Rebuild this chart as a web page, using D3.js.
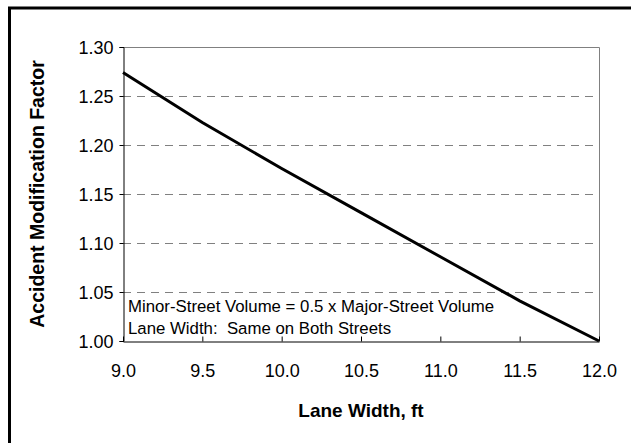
<!DOCTYPE html>
<html>
<head>
<meta charset="utf-8">
<script src="https://cdn.jsdelivr.net/npm/d3@7"></script>
<style>
  body { margin: 0; background: #fff; }
  svg text { font-family: "Liberation Sans", Arial, sans-serif; fill: #000; }
</style>
</head>
<body>
<svg width="631" height="443"></svg>
<script>
// lane width (ft) and the AMF
var laneWidth = [9.0, 9.5, 10.0, 10.5, 11.0, 11.5, 12.0];
var amf = [1.274, 1.223, 1.176, 1.131, 1.086, 1.041, 1.000];
var xTicks = [9.0, 9.5, 10.0, 10.5, 11.0, 11.5, 12.0];
var yTicks = [1.00, 1.05, 1.10, 1.15, 1.20, 1.25, 1.30];
var gridValues = [1.05, 1.10, 1.15, 1.20, 1.25];
var notes = ["Minor-Street Volume = 0.5 x Major-Street Volume", "Lane Width:  Same on Both Streets"];

var svg = d3.select("svg");
// note: "top" is taken by window.top, so plot edges get a prefix
var plotLeft = 123, plotRight = 599, plotTop = 47, plotBottom = 341;

var x = d3.scaleLinear().domain([9, 12]).range([plotLeft, plotRight]);
var y = d3.scaleLinear().domain([1, 1.3]).range([plotBottom, plotTop]);

// outer frame (runs off the right and bottom edges)
svg.append("path")
  .attr("d", "M9.5,443 L9.5,8 L631,8")
  .attr("fill", "none")
  .attr("stroke", "#000")
  .attr("stroke-width", 3);

// dashed gridlines
svg.selectAll("line.grid")
  .data(gridValues)
  .enter().append("line")
  .attr("class", "grid")
  .attr("x1", plotLeft).attr("x2", plotRight)
  .attr("y1", function(d) { return Math.round(y(d)) + 0.5; })
  .attr("y2", function(d) { return Math.round(y(d)) + 0.5; })
  .attr("stroke", "#808080")
  .attr("stroke-width", 1)
  .attr("stroke-dasharray", "8,6");

// plot area border top / right
svg.append("path")
  .attr("d", "M" + plotLeft + "," + (plotTop + 0.5) + " L" + (plotRight + 0.5) + "," + (plotTop + 0.5) + " L" + (plotRight + 0.5) + "," + plotBottom)
  .attr("fill", "none")
  .attr("stroke", "#808080")
  .attr("stroke-width", 1);

// y axis
var yAxis = d3.axisLeft(y).tickValues(yTicks).tickSize(4).tickPadding(6)
  .tickFormat(d3.format(".2f"));
var gy = svg.append("g").attr("transform", "translate(" + (plotLeft + 0.5) + ",0)").call(yAxis);
gy.select(".domain").attr("stroke", "#000");
gy.selectAll("text")
  .attr("font-size", "18px")
  .attr("font-family", "Liberation Sans, Arial, sans-serif")
  .attr("dy", "0.38em");

// x axis, ticks inside
var xAxis = d3.axisBottom(x).tickValues(xTicks).tickSizeInner(-5).tickSizeOuter(0).tickPadding(23)
  .tickFormat(d3.format(".1f"));
var gx = svg.append("g").attr("transform", "translate(0," + (plotBottom + 0.5) + ")").call(xAxis);
gx.select(".domain").attr("stroke", "#000");
gx.selectAll("text")
  .attr("font-size", "18px")
  .attr("font-family", "Liberation Sans, Arial, sans-serif")
  .attr("dy", "0.71em");

// the curve
var line = d3.line()
  .x(function(d, i) { return x(laneWidth[i]); })
  .y(function(d) { return y(d); });

svg.append("path")
  .datum(amf)
  .attr("d", line)
  .attr("fill", "none")
  .attr("stroke", "#000")
  .attr("stroke-width", 3);

// notes in the plot
svg.selectAll("text.note")
  .data(notes)
  .enter().append("text")
  .attr("class", "note")
  .attr("x", plotLeft + 5)
  .attr("y", function(d, i) { return 311.5 + i * 22.5; })
  .attr("font-size", "16.8px")
  .style("white-space", "pre")
  .text(function(d) { return d; });

// axis titles
svg.append("text")
  .attr("x", (plotLeft + plotRight) / 2)
  .attr("y", 417)
  .attr("text-anchor", "middle")
  .attr("font-size", "19px")
  .attr("font-weight", "bold")
  .text("Lane Width, ft");

svg.append("text")
  .attr("transform", "translate(44," + ((plotTop + plotBottom) / 2) + ") rotate(-90)")
  .attr("text-anchor", "middle")
  .attr("font-size", "19.5px")
  .attr("font-weight", "bold")
  .text("Accident Modification Factor");
</script>
</body>
</html>
